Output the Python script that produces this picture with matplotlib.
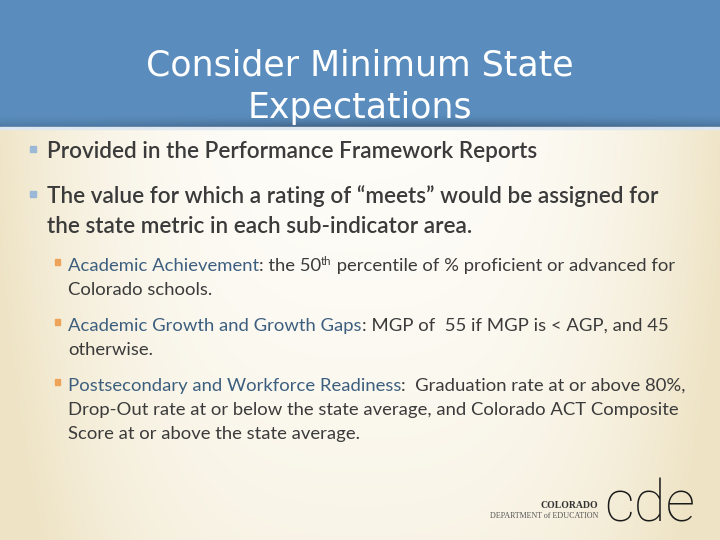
import matplotlib
matplotlib.use("Agg")
import matplotlib.pyplot as plt
import numpy as np
from matplotlib.patches import Rectangle
from matplotlib.colors import to_rgb

W, H = 720, 540

# ---- content ----
title_lines = ["Consider Minimum State", "Expectations"]

level1_lines = [
    ["Provided in the Performance Framework Reports"],
    ["The value for which a rating of \u201cmeets\u201d would be assigned for",
     "the state metric in each sub-indicator area."],
]

level2_labels = [
    "Academic Achievement",
    "Academic Growth and Growth Gaps",
    "Postsecondary and Workforce Readiness",
]
level2_first_rest = [
    [(": the 50", False), ("th", True), (" percentile of % proficient or advanced for", False)],
    [(": MGP of  55 if MGP is < AGP, and 45", False)],
    [(":  Graduation rate at or above 80%,", False)],
]
level2_more_lines = [
    ["Colorado schools."],
    ["otherwise."],
    ["Drop-Out rate at or below the state average, and Colorado ACT Composite",
     "Score at or above the state average."],
]

logo_top = "COLORADO"
logo_bottom = "DEPARTMENT of EDUCATION"
logo_mark = "cde"

# ---- style ----
HEADER = "#5a8dbd"
TEXT = "#3b3b3b"
LABEL = "#3d5f7f"
B1 = "#9bb9d6"
B2 = "#eea35a"
BODY_FONT = ["Lato", "DejaVu Sans"]
TITLE_FONT = ["DejaVu Sans"]

fig = plt.figure(figsize=(W / 100, H / 100), dpi=100)

# background gradient
bg = fig.add_axes([0, 0, 1, 1])
bg.set_xlim(0, W)
bg.set_ylim(H, 0)
bg.axis("off")
xx, yy = np.meshgrid(np.linspace(0, 1, 360), np.linspace(0, 1, 270))
f = np.clip((np.abs(xx - 0.5) / 0.5) ** 3 * 0.9 + (yy ** 2) * 0.35, 0, 1)
c0 = np.array(to_rgb("#fefdf9"))
c1 = np.array(to_rgb("#eee3c4"))
img = c0[None, None, :] * (1 - f[..., None]) + c1[None, None, :] * f[..., None]
bg.imshow(img, extent=[0, W, H, 0], aspect="auto", zorder=0)

# header
bg.add_patch(Rectangle((0, 0), W, 127, color=HEADER, zorder=1))
sh_y = np.linspace(0, 1, 40)
sh_x = np.linspace(0, 1, 360)
SX, SY = np.meshgrid(sh_x, sh_y)
alpha = (SY ** 2) * (0.25 + 0.35 * np.exp(-((SX - 0.6) / 0.35) ** 2))
shade = np.zeros((40, 360, 4))
shade[..., :3] = to_rgb("#2a3e55")
shade[..., 3] = alpha
bg.imshow(shade, extent=[0, W, 127, 112], aspect="auto", zorder=2)
bg.add_patch(Rectangle((0, 127), W, 1.5, color="#dfe8f0", zorder=2))

renderer = fig.canvas.get_renderer()


def fx(x):
    return x / W


def fy(y):
    return 1 - y / H


def text_width(s, **kw):
    a = fig.text(0, 0, "x" + s + "x", **kw)
    b = fig.text(0, 0, "xx", **kw)
    w = a.get_window_extent(renderer).width - b.get_window_extent(renderer).width
    a.remove()
    b.remove()
    return w


def draw_runs(x, y, runs):
    for s, color, size, raise_px, weight in runs:
        kw = dict(fontsize=size, color=color, family=BODY_FONT, fontweight=weight)
        fig.text(fx(x), fy(y - raise_px), s, va="baseline", ha="left", **kw)
        x += text_width(s, **kw)


# title
for line, y in zip(title_lines, [76, 118]):
    fig.text(0.5, fy(y), line, ha="center", va="baseline", color="white",
             fontsize=25, family=TITLE_FONT, fontweight="normal")

# level 1 bullets
l1_size = 16.2
l1_y = [[158], [203, 233]]
for lines, ys in zip(level1_lines, l1_y):
    bg.add_patch(Rectangle((30, ys[0] - 12), 6, 6, color=B1, zorder=3))
    for line, y in zip(lines, ys):
        fig.text(fx(47), fy(y), line, ha="left", va="baseline", color=TEXT,
                 fontsize=l1_size, family=BODY_FONT, fontweight="semibold")

# level 2 bullets
l2_size = 13.3
l2_y = [[271, 295], [331, 355], [391, 415, 439]]
for label, rest, more, ys in zip(level2_labels, level2_first_rest, level2_more_lines, l2_y):
    bg.add_patch(Rectangle((55, ys[0] - 12), 4.5, 5.5, color=B2, zorder=3))
    runs = [(label, LABEL, l2_size, 0, "normal")]
    for s, sup in rest:
        if sup:
            runs.append((s, TEXT, l2_size * 0.62, 6, "normal"))
        else:
            runs.append((s, TEXT, l2_size, 0, "normal"))
    draw_runs(68, ys[0], runs)
    for line, y in zip(more, ys[1:]):
        fig.text(fx(68), fy(y), line, ha="left", va="baseline", color=TEXT,
                 fontsize=l2_size, family=BODY_FONT, fontweight="normal")

# logo
fig.text(fx(598), fy(508), logo_top, ha="right", va="baseline", color="#333333",
         fontsize=7.0, family=["Liberation Serif", "DejaVu Serif"], fontweight="bold")
fig.text(fx(598), fy(518), logo_bottom, ha="right", va="baseline", color="#555555",
         fontsize=5.8, family=["Liberation Serif", "DejaVu Serif"])
fig.text(fx(604), fy(521), logo_mark, ha="left", va="baseline", color="#1a1a1a",
         fontsize=42, family=["Roboto", "DejaVu Sans"], fontweight="light")

fig.savefig("out.png", dpi=100)
